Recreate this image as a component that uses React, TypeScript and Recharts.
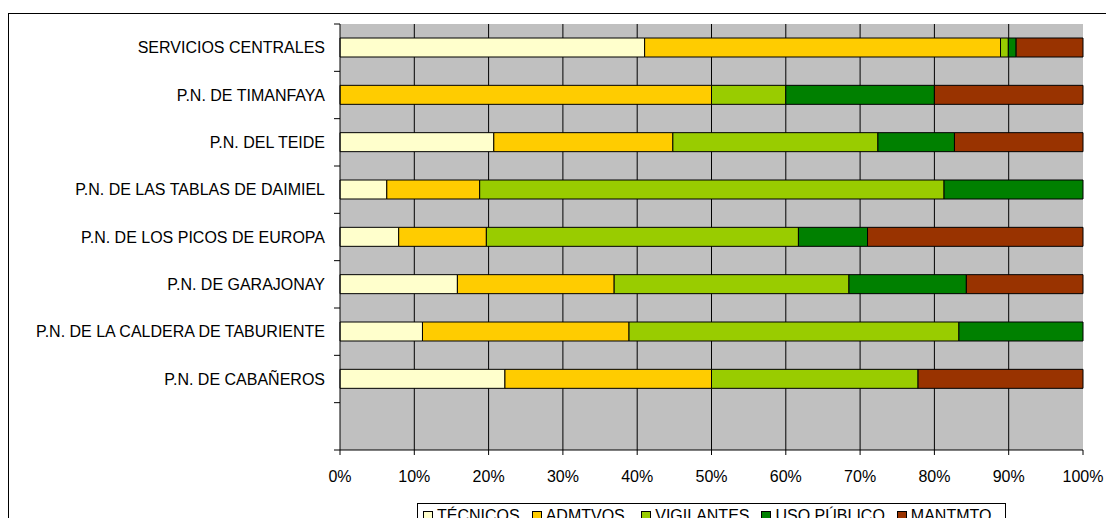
import { BarChart, Bar, XAxis, YAxis, CartesianGrid, Legend } from 'recharts'

const categories = [
  'SERVICIOS CENTRALES',
  'P.N. DE TIMANFAYA',
  'P.N. DEL TEIDE',
  'P.N. DE LAS TABLAS DE DAIMIEL',
  'P.N. DE LOS PICOS DE EUROPA',
  'P.N. DE GARAJONAY',
  'P.N. DE LA CALDERA DE TABURIENTE',
  'P.N. DE CABAÑEROS',
  '',
]

// share of staff per group, in %
const tecnicos = [41.0, 0, 20.7, 6.3, 7.9, 15.8, 11.1, 22.2, 0]
const admtvos = [47.9, 50, 24.1, 12.5, 11.8, 21.1, 27.8, 27.8, 0]
const vigilantes = [1.05, 10, 27.6, 62.5, 42.0, 31.6, 44.4, 27.8, 0]
const usoPublico = [1.05, 20, 10.3, 18.7, 9.3, 15.8, 16.7, 0, 0]
const mantmto = [9.0, 20, 17.3, 0, 29.0, 15.7, 0, 22.2, 0]

const xTicks = [0, 10, 20, 30, 40, 50, 60, 70, 80, 90, 100]
const gridValues = [10, 20, 30, 40, 50, 60, 70, 80, 90]

const series = [
  { key: 'tec', name: 'TÉCNICOS', color: '#FFFFCC' },
  { key: 'adm', name: 'ADMTVOS.', color: '#FFCC00' },
  { key: 'vig', name: 'VIGILANTES', color: '#99CC00' },
  { key: 'uso', name: 'USO PÚBLICO', color: '#008000' },
  { key: 'man', name: 'MANTMTO.', color: '#993300' },
]

const data = categories.map((name, i) => ({
  name,
  tec: tecnicos[i],
  adm: admtvos[i],
  vig: vigilantes[i],
  uso: usoPublico[i],
  man: mantmto[i],
}))

const FONT = '"Liberation Sans", Arial, sans-serif'
const FS = 16

function CategoryTick(props: any) {
  const { x, y, payload, index } = props
  const half = payload?.offset ?? 0
  return (
    <g>
      <line x1={x - 6} x2={x} y1={y + half} y2={y + half} stroke="#000" />
      {index === 0 && <line x1={x - 6} x2={x} y1={y - half} y2={y - half} stroke="#000" />}
      <text x={x - 15} y={y} dy="0.35em" textAnchor="end" fill="#000" fontSize={FS} fontFamily={FONT}>
        {payload.value}
      </text>
    </g>
  )
}

function LegendBox() {
  return (
    <div
      style={{
        display: 'flex',
        alignItems: 'flex-start',
        border: '1px solid #000',
        borderBottom: 'none',
        background: '#fff',
        height: 30,
        paddingTop: 3,
        paddingLeft: 5,
        paddingRight: 9,
        boxSizing: 'border-box',
        whiteSpace: 'nowrap',
        fontFamily: FONT,
        fontSize: FS,
        lineHeight: '18px',
        color: '#000',
      }}
    >
      {series.map((s, i) => (
        <span
          key={s.key}
          style={{ display: 'flex', alignItems: 'center', marginRight: i < series.length - 1 ? 12 : 0 }}
        >
          <span
            style={{
              width: 10,
              height: 10,
              boxSizing: 'border-box',
              border: '1px solid #000',
              background: s.color,
              marginRight: 4,
              display: 'inline-block',
            }}
          />
          {s.name}
        </span>
      ))}
    </div>
  )
}

export default function App() {
  return (
    <div
      style={{
        position: 'relative',
        width: 1098,
        height: 518,
        marginBottom: -8,
        overflow: 'hidden',
        fontFamily: FONT,
        background: '#fff',
      }}
    >
      <div
        style={{
          position: 'absolute',
          left: 0,
          top: 5,
          right: -20,
          bottom: -20,
          borderTop: '1px solid #000',
          borderLeft: '1px solid #000',
        }}
      />
      <BarChart
        width={1098}
        height={518}
        data={data}
        layout="vertical"
        barSize={19}
        margin={{ top: 16, right: 23, bottom: 36, left: 0 }}
      >
        <CartesianGrid
          horizontal={false}
          vertical={{ stroke: '#000', strokeWidth: 1 }}
          verticalValues={gridValues}
          stroke="#000"
          fill="#C0C0C0"
          fillOpacity={1}
        />
        <XAxis
          type="number"
          domain={[0, 100]}
          ticks={xTicks}
          interval={0}
          height={40}
          tickFormatter={(v) => `${v}%`}
          tick={{ fill: '#000', fontSize: FS, fontFamily: FONT }}
          axisLine={{ stroke: '#000' }}
          tickLine={{ stroke: '#000' }}
          tickSize={5}
          tickMargin={16}
        />
        <YAxis
          type="category"
          dataKey="name"
          width={332}
          interval={0}
          tick={<CategoryTick />}
          tickLine={false}
          tickSize={0}
          tickMargin={0}
          axisLine={{ stroke: '#000' }}
        />
        <Legend
          content={<LegendBox />}
          layout="horizontal"
          verticalAlign="middle"
          align="center"
          wrapperStyle={{ left: 409, top: 495, width: 'auto', height: 'auto' }}
        />
        {series.map((s) => (
          <Bar
            key={s.key}
            dataKey={s.key}
            name={s.name}
            stackId="a"
            fill={s.color}
            stroke="#000"
            strokeWidth={1}
            isAnimationActive={false}
          />
        ))}
      </BarChart>
    </div>
  )
}
